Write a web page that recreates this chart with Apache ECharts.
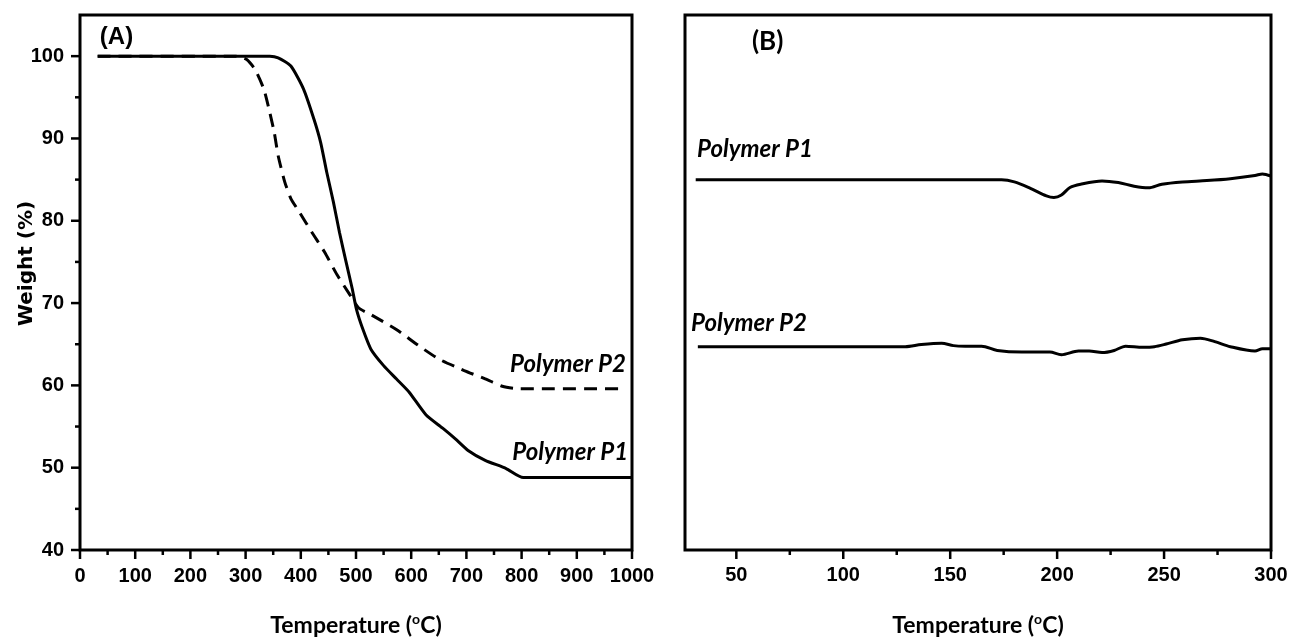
<!DOCTYPE html>
<html>
<head>
<meta charset="utf-8">
<script src="https://cdn.jsdelivr.net/npm/echarts@6/dist/echarts.min.js"></script>
<style>
html,body{margin:0;padding:0;background:#fff}
#main{width:1290px;height:642px}
</style>
</head>
<body>
<div id="main"></div>
<script>
// panel A : TGA
var tempP1A = [32, 100, 200, 300, 330, 344, 359, 382, 405, 424, 436, 447, 459, 470, 482, 493, 501, 512, 527, 550, 573, 596, 627, 657, 680, 703, 734, 772, 803, 1000];
var weightP1 = [100, 100, 100, 100, 100, 100, 99.8, 98.8, 96, 92.3, 89.5, 85.9, 82.3, 78.6, 75, 71.8, 69.2, 66.9, 64.4, 62.4, 60.8, 59.2, 56.4, 54.8, 53.5, 52.1, 50.9, 49.9, 48.8, 48.8];
var tempP2A = [32, 283, 302, 317, 333, 344, 352, 359, 371, 382, 398, 420, 443, 466, 489, 505, 527, 573, 612, 650, 696, 734, 765, 795, 979];
var weightP2 = [100, 100, 99.6, 98.4, 96, 93.1, 90.7, 87.9, 84.7, 82.7, 81.0, 78.6, 76.2, 73.4, 71, 69.4, 68.6, 66.8, 64.9, 63.2, 61.8, 60.8, 59.9, 59.6, 59.6];

// panel B : traces in arbitrary units
var tempP1B = [31, 100, 174, 180, 187.5, 195, 198.5, 202, 206, 211, 221, 228.6, 236, 242.7, 249, 258.6, 270, 281, 292.5, 296, 300];
var signalP1 = [69.2, 69.2, 69.2, 68.8, 67.6, 66.2, 65.9, 66.35, 67.76, 68.38, 68.99, 68.68, 68.0, 67.7, 68.38, 68.8, 69.05, 69.4, 70.0, 70.3, 69.9];
var tempP2B = [32, 100, 129, 136.5, 146, 151.5, 157, 164.7, 172, 183.5, 196.6, 202, 210, 215, 221, 226.7, 232, 240, 245.5, 251, 258.6, 267, 273.7, 281, 292.5, 296, 300];
var signalP2 = [38.0, 38.0, 38.0, 38.4, 38.65, 38.2, 38.1, 38.1, 37.3, 37.0, 37.0, 36.5, 37.2, 37.2, 36.9, 37.3, 38.1, 37.9, 38.0, 38.5, 39.3, 39.6, 38.95, 38.0, 37.2, 37.6, 37.6];

var ticksAX = [0, 100, 200, 300, 400, 500, 600, 700, 800, 900, 1000];
var minorAX = [50, 150, 250, 350, 450, 550, 650, 750, 850, 950];
var ticksAY = [40, 50, 60, 70, 80, 90, 100];
var minorAY = [45, 55, 65, 75, 85, 95];
var ticksBX = [50, 100, 150, 200, 250, 300];
var minorBX = [75, 125, 175, 225, 275];

function zip(a, b) {
  var out = [];
  for (var i = 0; i < a.length; i++) out.push([a[i], b[i]]);
  return out;
}

var tickFontCss = "bold 20px 'Liberation Sans', Arial, sans-serif";
var nameStyle = {
  color: '#000',
  rich: {
    t: {fontFamily: 'Lato, sans-serif', fontWeight: 'bold', fontSize: 23, lineHeight: 25, verticalAlign: 'bottom', color: '#000'},
    sup: {fontFamily: 'Lato, sans-serif', fontWeight: 'bold', fontSize: 14, lineHeight: 25, verticalAlign: 'top', color: '#000'}
  }
};
var tempName = '{t|Temperature (}{sup|o}{t|C)}';

// tick marks + tick labels of one axis, placed through the axis scales
// dir 'x' = bottom edge, 'y' = left edge; third value 1 = major (labelled), 0 = minor
function axisMarks(xi, yi, dir, edge, majors, minors, gap) {
  var data = [];
  majors.forEach(function (v) { data.push(dir === 'x' ? [v, edge, 1] : [edge, v, 1]); });
  minors.forEach(function (v) { data.push(dir === 'x' ? [v, edge, 0] : [edge, v, 0]); });
  return {
    type: 'custom', xAxisIndex: xi, yAxisIndex: yi, data: data, clip: false, silent: true, z: 5,
    renderItem: function (params, api) {
      var p = api.coord([api.value(0), api.value(1)]);
      var major = api.value(2) === 1;
      var len = major ? 9 : 5;
      var children = [{
        type: 'rect',
        shape: dir === 'x'
          ? {x: p[0] - 1.25, y: p[1], width: 2.5, height: len}
          : {x: p[0] - len, y: p[1] - 1.25, width: len, height: 2.5},
        style: {fill: '#000'}
      }];
      if (major) {
        var txt = String(dir === 'x' ? api.value(0) : api.value(1));
        children.push(dir === 'x'
          ? {type: 'text', x: p[0], y: p[1] + gap, style: {text: txt, font: tickFontCss, fill: '#000', align: 'center', verticalAlign: 'top'}}
          : {type: 'text', x: p[0] - gap, y: p[1], style: {text: txt, font: tickFontCss, fill: '#000', align: 'right', verticalAlign: 'middle'}});
      }
      return {type: 'group', children: children};
    }
  };
}

function bareAxis(grid, min, max, pos) {
  return {gridIndex: grid, type: 'value', min: min, max: max, position: pos,
    axisLine: {show: false}, splitLine: {show: false}, axisTick: {show: false}, axisLabel: {show: false}};
}

var xA = bareAxis(0, 0, 1000, 'bottom');
xA.name = tempName; xA.nameLocation = 'middle'; xA.nameGap = 62; xA.nameTextStyle = nameStyle;
var xB = bareAxis(1, 26, 300, 'bottom');
xB.name = tempName; xB.nameLocation = 'middle'; xB.nameGap = 62; xB.nameTextStyle = nameStyle;
var yA = bareAxis(0, 40, 105, 'left');
yA.name = 'Weight (%)'; yA.nameLocation = 'middle'; yA.nameGap = 43;
yA.nameTextStyle = {fontFamily: "'DejaVu Sans', sans-serif", fontWeight: 'bold', fontSize: 20, color: '#000', padding: [0, 0, 0, 38]};
var yB = bareAxis(1, 0, 100, 'left');

var chart = echarts.init(document.getElementById('main'));
var option = {
  animation: false,
  backgroundColor: '#fff',
  grid: [
    {left: 80, top: 15, width: 552, height: 538, show: true, borderColor: '#000', borderWidth: 3},
    {left: 685, top: 15, width: 586, height: 545, show: true, borderColor: '#000', borderWidth: 3}
  ],
  xAxis: [xA, xB],
  yAxis: [yA, yB],
  series: [
    {name: 'Polymer P1', type: 'line', xAxisIndex: 0, yAxisIndex: 0, data: zip(tempP1A, weightP1),
     symbol: 'none', smooth: 0.2, lineStyle: {color: '#000', width: 3}},
    {name: 'Polymer P2', type: 'line', xAxisIndex: 0, yAxisIndex: 0, data: zip(tempP2A, weightP2),
     symbol: 'none', smooth: 0.2, lineStyle: {color: '#000', width: 3, type: [13, 8]}},
    {name: 'Polymer P1', type: 'line', xAxisIndex: 1, yAxisIndex: 1, data: zip(tempP1B, signalP1),
     symbol: 'none', smooth: 0.3, lineStyle: {color: '#000', width: 3}},
    {name: 'Polymer P2', type: 'line', xAxisIndex: 1, yAxisIndex: 1, data: zip(tempP2B, signalP2),
     symbol: 'none', smooth: 0.3, lineStyle: {color: '#000', width: 3}},
    axisMarks(0, 0, 'x', 40, ticksAX, minorAX, 16),
    axisMarks(0, 0, 'y', 0, ticksAY, minorAY, 16),
    axisMarks(1, 1, 'x', 0, ticksBX, minorBX, 15)
  ]
};
chart.setOption(option);

// text annotations placed at data coordinates
var labelFont = "italic bold 24px Lato, sans-serif";
function at(seriesIndex, x, y) {
  return chart.convertToPixel({seriesIndex: seriesIndex}, [x, y]);
}
var notes = [
  {s: 0, x: 36, y: 102.26, text: '(A)', font: "bold 24px 'Liberation Sans', sans-serif"},
  {s: 0, x: 779, y: 62.6, text: 'Polymer P2', font: labelFont},
  {s: 0, x: 783, y: 51.85, text: 'Polymer P1', font: labelFont},
  {s: 2, x: 57.3, y: 95, text: '(B)', font: "bold 26px Lato, sans-serif"},
  {s: 2, x: 31.6, y: 74.9, text: 'Polymer P1', font: labelFont},
  {s: 2, x: 28.8, y: 42.4, text: 'Polymer P2', font: labelFont}
];
var graphics = [];
for (var i = 0; i < notes.length; i++) {
  var p = at(notes[i].s, notes[i].x, notes[i].y);
  graphics.push({type: 'text', x: p[0], y: p[1], z: 10,
    style: {text: notes[i].text, font: notes[i].font, fill: '#000', verticalAlign: 'middle', align: 'left'}});
}
chart.setOption({graphic: graphics});
</script>
</body>
</html>
